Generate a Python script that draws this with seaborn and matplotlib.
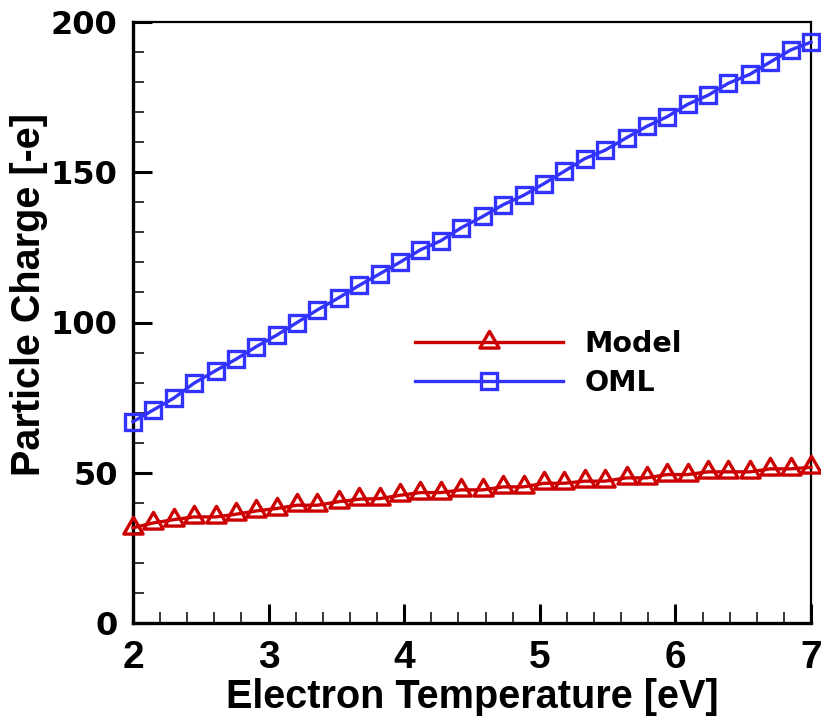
import numpy as np
import pandas as pd
import matplotlib
matplotlib.use("Agg")
import matplotlib.pyplot as plt
from matplotlib.path import Path
from matplotlib.ticker import MultipleLocator
import seaborn as sns

# ---------------- data ----------------
temperature = [2.00, 2.15, 2.30, 2.45, 2.61, 2.76, 2.91, 3.06, 3.21, 3.36, 3.52, 3.67,
               3.82, 3.97, 4.12, 4.27, 4.42, 4.58, 4.73, 4.88, 5.03, 5.18, 5.33, 5.48,
               5.64, 5.79, 5.94, 6.09, 6.24, 6.39, 6.55, 6.70, 6.85, 7.00]
model_charge = [31.7, 33.3, 34.4, 35.3, 35.3, 36.2, 37.3, 38.1, 39.2, 39.2, 40.4, 41.2,
                41.4, 42.5, 43.4, 43.4, 44.3, 44.3, 45.3, 45.3, 46.5, 46.5, 47.2, 47.2,
                48.3, 48.3, 49.4, 49.4, 50.3, 50.3, 50.3, 51.3, 51.3, 51.8]
oml_charge = [67.0, 70.9, 74.8, 79.8, 84.0, 87.8, 92.0, 95.8, 100.0, 104.2, 108.3, 112.4,
              116.2, 120.1, 124.2, 127.2, 131.5, 135.3, 139.2, 142.3, 146.2, 150.3, 154.5, 157.3,
              161.5, 165.3, 168.5, 172.6, 175.6, 179.6, 182.6, 186.7, 190.7, 193.3]
series_names = ["Model", "OML"]
x_ticks = [2, 3, 4, 5, 6, 7]
y_ticks = [0, 50, 100, 150, 200]

df = pd.DataFrame({"T": temperature, "Model": model_charge, "OML": oml_charge})

# ---------------- style ----------------
RED = "#CC0000"
BLUE = "#3333FF"
narrow = ["Liberation Sans", "DejaVu Sans"]
wide = ["DejaVu Sans"]

# equilateral triangle centred on its centroid (Tecplot-like)
tri = Path([(0, 1), (-0.866, -0.5), (0.866, -0.5), (0, 1)],
           [Path.MOVETO, Path.LINETO, Path.LINETO, Path.CLOSEPOLY])

fig = plt.figure(figsize=(8.21, 7.19), dpi=100)
ax = fig.add_axes([133 / 821, 1 - 623 / 719, (811 - 133) / 821, (623 - 22) / 719])

sns.lineplot(data=df, x="T", y="Model", ax=ax, color=RED, lw=2.4,
             marker=tri, markersize=16, mfc="none", mec=RED, mew=2.4,
             clip_on=False, label=series_names[0], zorder=3)
sns.lineplot(data=df, x="T", y="OML", ax=ax, color=BLUE, lw=2.4,
             marker="s", markersize=11.5, mfc="none", mec=BLUE, mew=2.4,
             clip_on=False, label=series_names[1], zorder=3)

ax.set_xlim(2, 7)
ax.set_ylim(0, 200)
ax.set_xticks(x_ticks)
ax.set_yticks(y_ticks)
ax.xaxis.set_minor_locator(MultipleLocator(0.2))
ax.yaxis.set_minor_locator(MultipleLocator(10))
ax.tick_params(which="major", direction="in", length=14, width=2.2,
               top=False, right=False)
ax.tick_params(which="minor", direction="in", length=8, width=1.1,
               top=False, right=False)
for lab in ax.get_xticklabels():
    lab.set_fontfamily(narrow)
    lab.set_fontweight("bold")
    lab.set_fontsize(28)
for lab in ax.get_yticklabels():
    lab.set_fontfamily(wide)
    lab.set_fontweight("bold")
    lab.set_fontsize(23)
ax.tick_params(axis="x", pad=12)
ax.tick_params(axis="y", pad=11)

for side in ["left", "bottom"]:
    ax.spines[side].set_linewidth(2.4)
for side in ["top", "right"]:
    ax.spines[side].set_linewidth(1.6)

ax.set_xlabel("Electron Temperature [eV]", fontfamily=narrow, fontweight="bold",
              fontsize=28.5)
ax.set_ylabel("Particle Charge [-e]", fontfamily=narrow, fontweight="bold",
              fontsize=28.5)
ax.xaxis.set_label_coords(0.5, -(697 - 623) / 601, transform=ax.transAxes)
ax.yaxis.set_label_coords(-(133 - 29) / 678, (623 - 294) / 601, transform=ax.transAxes)
ax.xaxis.label.set_va("center")
ax.yaxis.label.set_va("center")

leg = ax.legend(loc="upper left", bbox_to_anchor=(415 / 821, 1 - 330 / 719),
                bbox_transform=fig.transFigure, frameon=False,
                prop={"family": wide, "weight": "bold", "size": 20.5},
                handlelength=5.2, handletextpad=0.75, labelspacing=0.4,
                borderpad=0.0, borderaxespad=0.0)

fig.savefig("out.png", dpi=100)
